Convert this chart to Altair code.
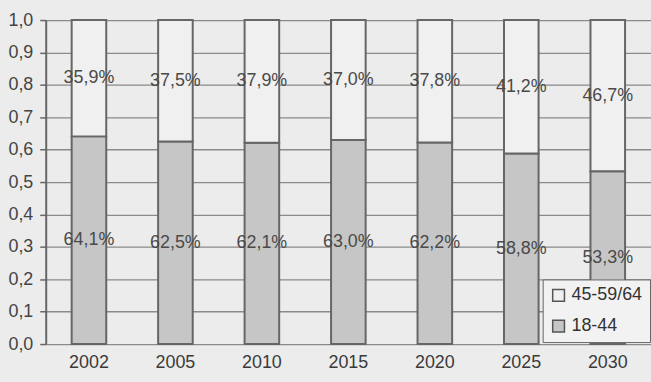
import altair as alt
import pandas as pd

years = ["2002", "2005", "2010", "2015", "2020", "2025", "2030"]
young = [64.1, 62.5, 62.1, 63.0, 62.2, 58.8, 53.3]   # 18-44
older = [35.9, 37.5, 37.9, 37.0, 37.8, 41.2, 46.7]   # 45-59/64
groups = ["45-59/64", "18-44"]

rows = []
for yr, a, b in zip(years, young, older):
    fa = a / 100.0
    rows.append({"year": yr, "group": "18-44", "y0": 0.0, "y1": fa,
                 "mid": fa / 2, "label": f"{a:.1f}%".replace(".", ",")})
    rows.append({"year": yr, "group": "45-59/64", "y0": fa, "y1": 1.0,
                 "mid": (fa + 1.0) / 2, "label": f"{b:.1f}%".replace(".", ",")})
df = pd.DataFrame(rows)

FONT = "Liberation Sans"
FS = 18

xaxis = alt.Axis(labelAngle=0, labelFontSize=FS, labelColor="#3a3a3a",
                 labelFont=FONT, ticks=False, domain=False, labelPadding=10,
                 grid=False)
xscale = alt.Scale(paddingInner=0.6, paddingOuter=0.3)

yaxis = alt.Axis(values=[i / 10 for i in range(11)],
                 labelExpr="replace(format(datum.value, '.1f'), '.', ',')",
                 labelOverlap=False,
                 labelFontSize=FS, labelColor="#444444", labelFont=FONT,
                 tickSize=6, tickColor="#666666", tickWidth=1.5,
                 labelPadding=7, domainColor="#666666", domainWidth=2,
                 grid=True, gridColor="#8a8a8a", gridWidth=1.3)
yscale = alt.Scale(domain=[0, 1], nice=False)

bars = alt.Chart(df).mark_bar(stroke="#666666", strokeWidth=2).encode(
    x=alt.X("year:N", sort=years, title=None, scale=xscale, axis=xaxis),
    y=alt.Y("y0:Q", title=None, scale=yscale, axis=yaxis),
    y2="y1:Q",
    color=alt.Color("group:N",
                    scale=alt.Scale(domain=groups, range=["#f0f0f0", "#c6c6c6"]),
                    legend=alt.Legend(title=None, orient="none", legendX=500, legendY=261,
                                      labelFontSize=FS, labelFont=FONT, labelColor="#333333",
                                      symbolType="square", symbolSize=140,
                                      symbolStrokeColor="#555555", symbolStrokeWidth=1.5,
                                      fillColor="#f2f2f2", strokeColor="#666666",
                                      padding=7, rowPadding=13, labelOffset=4,
                                      labelLimit=200)),
)

labels = alt.Chart(df).mark_text(fontSize=FS, font=FONT, color="#4a4a4a").encode(
    x=alt.X("year:N", sort=years, title=None, scale=xscale, axis=xaxis),
    y=alt.Y("mid:Q", title=None, scale=yscale, axis=yaxis),
    text="label:N",
)

chart = alt.layer(bars, labels).properties(
    width=609, height=326,
    autosize=alt.AutoSizeParams(type="none"),
    padding={"left": 46, "top": 19, "right": 0, "bottom": 37},
    background="#ececec",
).configure_view(stroke=None)

chart.save("out.html", embed_options={"renderer": "svg", "actions": False})
